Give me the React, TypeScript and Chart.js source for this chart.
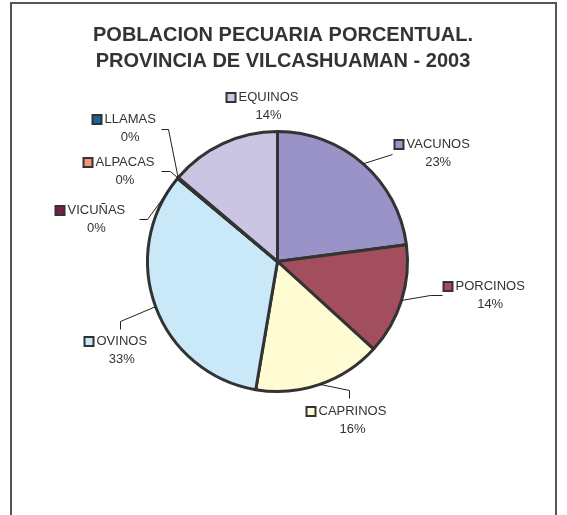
import React, { useEffect, useRef } from "react";
import { Chart, registerables } from "chart.js";

Chart.register(...registerables);

const categories = ["VACUNOS", "PORCINOS", "CAPRINOS", "OVINOS", "VICUÑAS", "ALPACAS", "LLAMAS", "EQUINOS"];
const shares = [22.9, 13.8, 15.9, 33.3, 0.05, 0.05, 0.05, 13.8];
const colors = ["#9A93C8", "#A24E5E", "#FFFBD2", "#C9E9F9", "#7A1F4A", "#F4957A", "#1A6496", "#C9C5E3"];
const titleLines = ["POBLACION PECUARIA PORCENTUAL.", "PROVINCIA DE VILCASHUAMAN - 2003"];

// label layout, relative to pie centre: text-left x, name middle y, leader bend points
const labelLayout: { dx: number; dy: number; leader: number[][] }[] = [
  { dx: 129, dy: -117, leader: [[115, -107]] },
  { dx: 178, dy: 25, leader: [[153, 34], [165, 34]] },
  { dx: 41, dy: 150, leader: [[72, 129], [72, 137]] },
  { dx: -181, dy: 80, leader: [[-157, 60], [-157, 68]] },
  { dx: -210, dy: -51, leader: [[-130, -42], [-138, -42]] },
  { dx: -182, dy: -99, leader: [[-107, -90], [-116, -90]] },
  { dx: -173, dy: -142, leader: [[-109, -132], [-116, -132]] },
  { dx: -39, dy: -164, leader: [] },
];

const FONT = "Liberation Sans, Arial, sans-serif";

const decorPlugin = {
  id: "decor",
  beforeDraw(chart: any) {
    const ctx = chart.ctx as CanvasRenderingContext2D;
    ctx.save();
    ctx.fillStyle = "#ffffff";
    ctx.fillRect(0, 0, chart.width, chart.height);
    ctx.strokeStyle = "#555555";
    ctx.lineWidth = 2;
    ctx.strokeRect(11, 3, 545, 600);
    ctx.fillStyle = "#333333";
    ctx.font = `bold 20px ${FONT}`;
    ctx.textAlign = "center";
    ctx.textBaseline = "middle";
    ctx.fillText(titleLines[0], 283, 35);
    ctx.fillText(titleLines[1], 283, 61);
    ctx.restore();
  },
  afterDatasetsDraw(chart: any) {
    const ctx = chart.ctx as CanvasRenderingContext2D;
    const meta = chart.getDatasetMeta(0);
    const data = chart.data.datasets[0].data as number[];
    const total = data.reduce((a, b) => a + b, 0);
    ctx.save();
    meta.data.forEach((arc: any, i: number) => {
      const { x, y, startAngle, endAngle, outerRadius } = arc.getProps(
        ["x", "y", "startAngle", "endAngle", "outerRadius"],
        true
      );
      const mid = (startAngle + endAngle) / 2;
      const lay = labelLayout[i];
      if (lay.leader.length) {
        ctx.strokeStyle = "#222222";
        ctx.lineWidth = 1;
        ctx.beginPath();
        ctx.moveTo(x + outerRadius * Math.cos(mid), y + outerRadius * Math.sin(mid));
        lay.leader.forEach((p) => ctx.lineTo(x + p[0], y + p[1]));
        ctx.stroke();
      }
      const tx = x + lay.dx;
      const ty = y + lay.dy;
      ctx.font = `13px ${FONT}`;
      ctx.textBaseline = "middle";
      ctx.textAlign = "left";
      ctx.fillStyle = "#333333";
      ctx.fillText(categories[i], tx, ty);
      const w = ctx.measureText(categories[i]).width;
      // legend key box
      ctx.fillStyle = colors[i];
      ctx.fillRect(tx - 12, ty - 4.5, 9, 9);
      ctx.strokeStyle = "#333333";
      ctx.lineWidth = 2;
      ctx.strokeRect(tx - 12, ty - 4.5, 9, 9);
      ctx.fillStyle = "#333333";
      ctx.textAlign = "center";
      const pct = Math.round((data[i] / total) * 100) + "%";
      ctx.fillText(pct, tx + w / 2, ty + 18);
    });
    ctx.restore();
  },
};

export default function App() {
  const ref = useRef<HTMLCanvasElement | null>(null);
  useEffect(() => {
    if (!ref.current) return;
    const chart = new Chart(ref.current, {
      type: "pie",
      data: {
        labels: categories,
        datasets: [
          {
            data: shares,
            backgroundColor: colors,
            borderColor: "#333333",
            borderWidth: 3,
          },
        ],
      },
      options: {
        responsive: false,
        animation: false,
        layout: { padding: { left: 146, right: 158, top: 130, bottom: 122 } },
        plugins: {
          legend: { display: false },
          tooltip: { enabled: false },
          title: { display: false },
        },
      },
      plugins: [decorPlugin],
    });
    return () => chart.destroy();
  }, []);
  return (
    <div style={{ position: "fixed", left: 0, top: 0, width: 567, height: 515 }}>
      <canvas ref={ref} width={567} height={515} />
    </div>
  );
}
